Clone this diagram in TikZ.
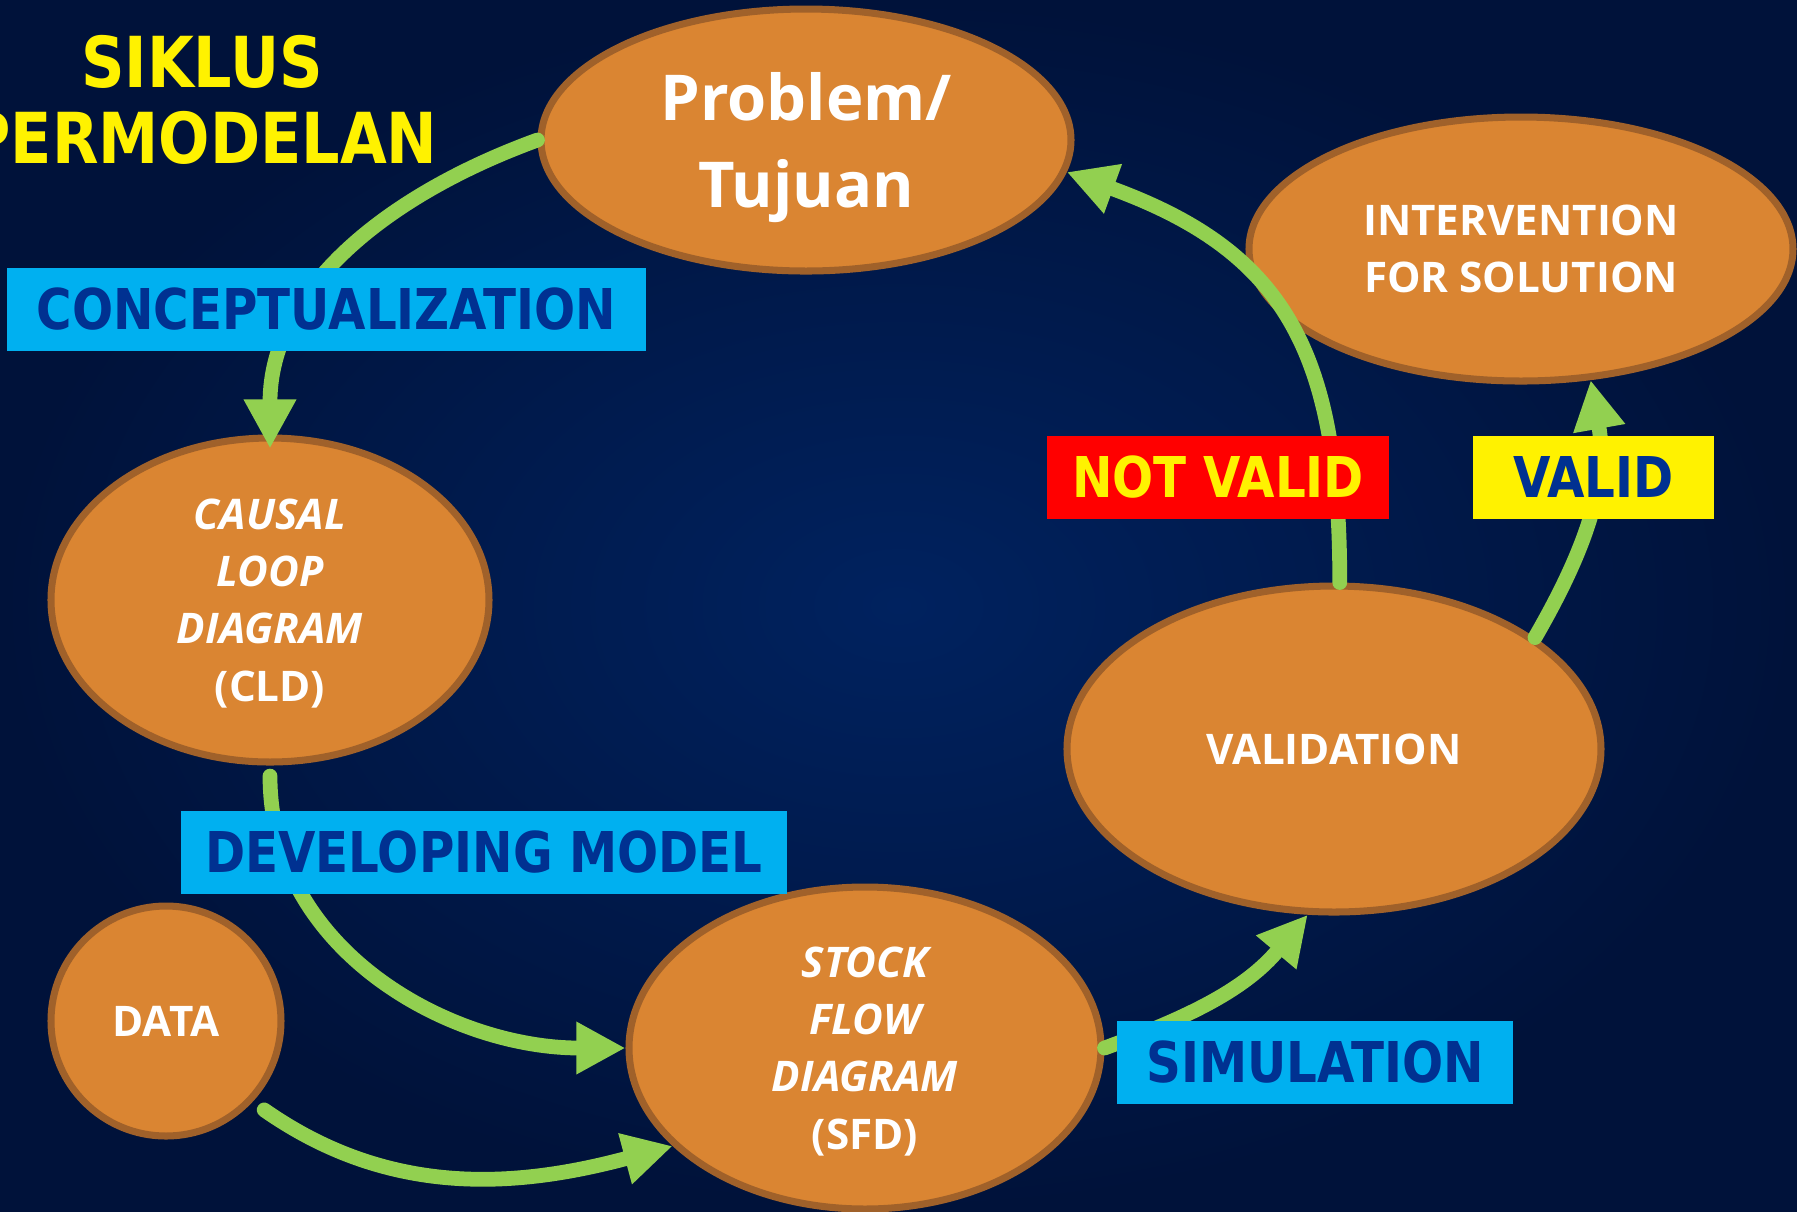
\documentclass[tikz,border=0pt]{standalone}
\usepackage{fontspec}
\usetikzlibrary{arrows.meta,shapes.geometric}
\newfontfamily\lblfont[FakeStretch=0.86]{DejaVu Sans}
\newfontfamily\ovalfont{Open Sans}
\definecolor{bgInner}{HTML}{00225F}
\definecolor{bgOuter}{HTML}{00123A}
\definecolor{ovalFill}{HTML}{DA8532}
\definecolor{ovalBorder}{HTML}{A0612A}
\definecolor{flowGreen}{HTML}{92D050}
\definecolor{tagCyan}{HTML}{00B0F0}
\definecolor{tagText}{HTML}{003191}
\tikzset{
  stage/.style={
    ellipse, draw=ovalBorder, fill=ovalFill, line width=2pt,
    inner sep=0pt, align=center, text=white, text depth=0pt,
    font=\ovalfont\bfseries\fontsize{12}{16.3}\selectfont
  },
  stageItalic/.style={
    stage,
    font=\ovalfont\bfseries\itshape\fontsize{12}{16.3}\selectfont
  },
  flowArrow/.style={
    draw=flowGreen, line width=4.2pt, line cap=round,
    -{Triangle[length=14pt,width=14pt]}
  },
  tag/.style={
    fill=tagCyan, text=tagText, minimum height=0.83cm, inner sep=0pt,
    font=\lblfont\bfseries\fontsize{16}{19}\selectfont
  }
}

\begin{document}
\begin{tikzpicture}
    % background
    \useasboundingbox (0,0) rectangle (17.97,-12.11);
    \shade[inner color=bgInner, outer color=bgOuter] (0,0) rectangle (17.97,-12.11);

    % title
    \node[text=yellow, align=center,
      font=\lblfont\bfseries\fontsize{20}{21.6}\selectfont]
      (title) at (2.02,-1.00) {SIKLUS\\PERMODELAN};

    % stages
    \node[stage, minimum width=5.30cm, minimum height=2.62cm,
      font=\ovalfont\bfseries\fontsize{18}{24.5}\selectfont]
      (prob) at (8.06,-1.40) {Problem/\\Tujuan};
    \node[stage, minimum width=5.44cm, minimum height=2.64cm]
      (interv) at (15.21,-2.49) {INTERVENTION\\FOR SOLUTION};
    \node[stageItalic, minimum width=4.38cm, minimum height=3.24cm]
      (cld) at (2.70,-6.00) {CAUSAL\\LOOP\\DIAGRAM\\\textup{(CLD)}};
    \node[stage, circle, minimum size=2.30cm]
      (data) at (1.66,-10.21) {DATA};
    \node[stageItalic, minimum width=4.72cm, minimum height=3.22cm]
      (sfd) at (8.65,-10.48) {STOCK\\FLOW\\DIAGRAM\\\textup{(SFD)}};
    \node[stage, minimum width=5.34cm, minimum height=3.26cm]
      (valid) at (13.34,-7.49) {VALIDATION};

    % flows
    \draw[flowArrow] (prob.west) to[out=200,in=90] ([yshift=-4pt]cld.north);
    \draw[flowArrow] ([yshift=-3pt]cld.south) to[out=-90,in=180] (sfd.west);
    \draw[flowArrow, shorten <=4pt] (data.-43) to[out=-35,in=195] (sfd.207);
    \draw[flowArrow] (sfd.east) to[out=20,in=230] (valid.261);
    \draw[flowArrow] (valid.88) to[out=90,in=-20,looseness=1.2] (prob.-7);
    \draw[flowArrow] (valid.29) to[out=60,in=-80] (interv.-62);

    % tags
    \node[tag, minimum width=6.39cm] (concept) at (3.265,-3.095) {CONCEPTUALIZATION};
    \node[tag, minimum width=6.06cm] (develop) at (4.84,-8.525) {DEVELOPING MODEL};
    \node[tag, minimum width=3.42cm, fill=red, text=yellow]
      (notvalid) at (12.18,-4.77) {NOT VALID};
    \node[tag, minimum width=2.41cm, fill=yellow] (validtag) at (15.935,-4.77) {VALID};
    \node[tag, minimum width=3.96cm] (simul) at (13.15,-10.625) {SIMULATION};
\end{tikzpicture}
\end{document}
